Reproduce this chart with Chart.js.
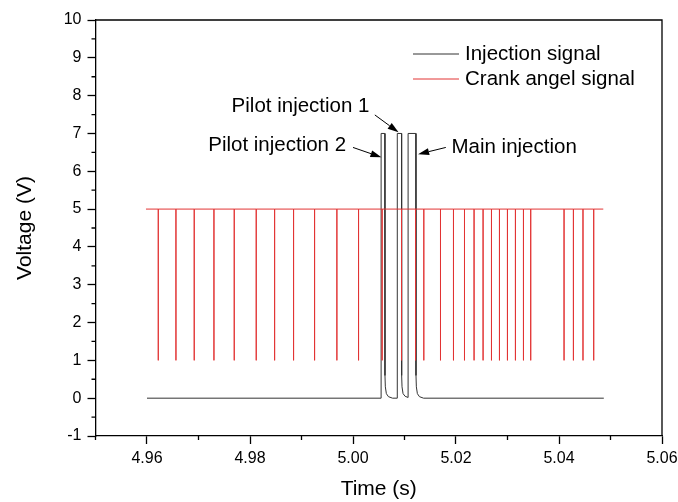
<!DOCTYPE html>
<html>
<head>
<meta charset="utf-8">
<script src="https://cdn.jsdelivr.net/npm/chart.js@4.4.1/dist/chart.umd.min.js"></script>
<style>
    html, body { margin: 0; padding: 0; background: #fff; }
    #wrap { width: 678px; height: 502px; }
</style>
</head>
<body>
<div id="wrap"><canvas id="chart" width="678" height="502"></canvas></div>
<script>
// Crank angle signal: time (s) of every tooth pulse, levels in V
const crankTimes = [
    4.96219, 4.96562, 4.96917, 4.97300, 4.97694, 4.98121, 4.98478, 4.98846,
    4.99254, 4.99687, 5.00108, 5.00566, 5.00942, 5.01214, 5.01375, 5.01699,
    5.01951, 5.02165, 5.02351, 5.02526, 5.02689, 5.02844, 5.02999, 5.03154,
    5.03310, 5.03451, 5.04098, 5.04280, 5.04466, 5.04674
];
const crankStart = 4.9598;
const crankEnd = 5.0486;
const crankHigh = 5;
const crankLow = 1;

// Injection signal: time (s) and voltage (V)
const injTime = [
    4.9600, 5.00544, 5.00546, 5.00618, 5.00621, 5.00628, 5.00648, 5.00688, 5.00768,
    5.00858, 5.00860, 5.00942, 5.00945, 5.00952, 5.00972, 5.01012, 5.01068,
    5.01070, 5.01220, 5.01223, 5.01230, 5.01250, 5.01290, 5.01370, 5.0487
];
const injVolt = [
    0, 0, 7, 7, 0.6, 0.3, 0.12, 0.04, 0,
    0, 7, 7, 0.6, 0.3, 0.12, 0.05, 0.02,
    7, 7, 0.6, 0.3, 0.12, 0.04, 0, 0
];

// Axis ranges
const xRange = [4.95, 5.06];
const yRange = [-1, 10];

// Annotations (text anchor and arrow in data units)
const notes = [
    { text: 'Pilot injection 1', x: 4.97643, y: 7.58, from: [5.00424, 7.49], to: [5.00884, 7.03] },
    { text: 'Pilot injection 2', x: 4.97189, y: 6.54, from: [5.00000, 6.63], to: [5.00552, 6.37] },
    { text: 'Main injection',    x: 5.01912, y: 6.48, from: [5.01802, 6.63], to: [5.01264, 6.45] }
];

const FONT = "'Liberation Sans', Arial, sans-serif";

function crankPoints() {
    const pts = [{ x: crankStart, y: crankHigh }];
    crankTimes.forEach(t => {
        pts.push({ x: t, y: crankHigh }, { x: t, y: crankLow }, { x: t, y: crankHigh });
    });
    pts.push({ x: crankEnd, y: crankHigh });
    return pts;
}

function injPoints() {
    return injTime.map((t, i) => ({ x: t, y: injVolt[i] }));
}

function isMajorX(v) {
    const k = Math.round(v * 100);
    return Math.abs(v * 100 - k) < 1e-6 && k % 2 === 0;
}
function isMajorY(v) {
    return Math.abs(v - Math.round(v)) < 1e-6;
}

// minor ticks + top/right frame
const frameAndMinor = {
    id: 'frameAndMinor',
    afterDraw(chart) {
        const { ctx, chartArea: a, scales: { x, y } } = chart;
        ctx.save();
        ctx.strokeStyle = '#000';
        ctx.lineWidth = 1.3;
        ctx.beginPath();
        x.ticks.forEach(t => {
            if (!isMajorX(t.value)) {
                const px = x.getPixelForValue(t.value);
                ctx.moveTo(px, a.bottom);
                ctx.lineTo(px, a.bottom + 4);
            }
        });
        y.ticks.forEach(t => {
            if (!isMajorY(t.value)) {
                const py = y.getPixelForValue(t.value);
                ctx.moveTo(a.left - 4, py);
                ctx.lineTo(a.left, py);
            }
        });
        ctx.moveTo(a.left, a.top);
        ctx.lineTo(a.right, a.top);
        ctx.lineTo(a.right, a.bottom);
        ctx.stroke();
        ctx.restore();
    }
};

// legend drawn inside the plot, top right
const insideLegend = {
    id: 'insideLegend',
    afterDraw(chart) {
        const { ctx, chartArea: a } = chart;
        ctx.save();
        ctx.font = '20.5px ' + FONT;
        ctx.textBaseline = 'middle';
        ctx.fillStyle = '#000';
        chart.data.datasets.forEach((ds, i) => {
            const yy = a.top + 34 + i * 25;
            const x0 = a.right - 249;
            ctx.strokeStyle = ds.borderColor;
            ctx.lineWidth = 1;
            ctx.beginPath();
            ctx.moveTo(x0, yy);
            ctx.lineTo(x0 + 46, yy);
            ctx.stroke();
            ctx.fillText(ds.label, x0 + 52, yy);
        });
        ctx.restore();
    }
};

// text labels with arrows
const arrowNotes = {
    id: 'arrowNotes',
    afterDraw(chart) {
        const { ctx, scales: { x, y } } = chart;
        ctx.save();
        ctx.font = '20.5px ' + FONT;
        ctx.textBaseline = 'alphabetic';
        ctx.fillStyle = '#000';
        ctx.strokeStyle = '#000';
        ctx.lineWidth = 1;
        notes.forEach(n => {
            ctx.fillText(n.text, x.getPixelForValue(n.x), y.getPixelForValue(n.y));
            const x1 = x.getPixelForValue(n.from[0]), y1 = y.getPixelForValue(n.from[1]);
            const x2 = x.getPixelForValue(n.to[0]), y2 = y.getPixelForValue(n.to[1]);
            const ang = Math.atan2(y2 - y1, x2 - x1);
            const len = 11, hw = 3.5;
            const bx = x2 - len * Math.cos(ang), by = y2 - len * Math.sin(ang);
            ctx.beginPath();
            ctx.moveTo(x1, y1);
            ctx.lineTo(bx, by);
            ctx.stroke();
            ctx.beginPath();
            ctx.moveTo(x2, y2);
            ctx.lineTo(bx + hw * Math.sin(ang), by - hw * Math.cos(ang));
            ctx.lineTo(bx - hw * Math.sin(ang), by + hw * Math.cos(ang));
            ctx.closePath();
            ctx.fill();
        });
        ctx.restore();
    }
};

new Chart(document.getElementById('chart'), {
    type: 'scatter',
    data: {
        datasets: [
            {
                label: 'Injection signal',
                data: injPoints(),
                showLine: true,
                borderColor: '#333333',
                borderWidth: 1,
                pointRadius: 0,
                tension: 0,
                order: 1
            },
            {
                label: 'Crank angel signal',
                data: crankPoints(),
                showLine: true,
                borderColor: 'rgb(226, 52, 52)',
                borderWidth: 1,
                pointRadius: 0,
                tension: 0,
                order: 0
            }
        ]
    },
    options: {
        responsive: false,
        animation: false,
        layout: { padding: { top: 20, right: 16, left: 0, bottom: 0 } },
        plugins: {
            legend: { display: false },
            tooltip: { enabled: false }
        },
        scales: {
            x: {
                type: 'linear',
                min: xRange[0],
                max: xRange[1],
                ticks: {
                    stepSize: 0.01,
                    autoSkip: false,
                    maxRotation: 0,
                    padding: 5,
                    color: '#000',
                    font: { family: FONT, size: 16 },
                    callback: v => isMajorX(v) ? v.toFixed(2) : ''
                },
                grid: {
                    drawOnChartArea: false,
                    tickLength: 8,
                    tickWidth: 1.3,
                    tickColor: c => (c.tick && isMajorX(c.tick.value)) ? '#000' : 'rgba(0,0,0,0)'
                },
                border: { color: '#000', width: 1.3 },
                title: {
                    display: true,
                    text: 'Time (s)',
                    color: '#000',
                    font: { family: FONT, size: 21 },
                    padding: { top: 0, bottom: 0 }
                },
                afterFit: s => {
                    s.height = 66;
                    s.paddingLeft = 0;
                    s.paddingRight = 0;
                }
            },
            y: {
                type: 'linear',
                min: yRange[0],
                max: yRange[1],
                ticks: {
                    stepSize: 0.5,
                    autoSkip: false,
                    padding: 6,
                    color: '#000',
                    font: { family: FONT, size: 16 },
                    callback: v => isMajorY(v) ? String(Math.round(v)) : ''
                },
                grid: {
                    drawOnChartArea: false,
                    tickLength: 8,
                    tickWidth: 1.3,
                    tickColor: c => (c.tick && isMajorY(c.tick.value)) ? '#000' : 'rgba(0,0,0,0)'
                },
                border: { color: '#000', width: 1.3 },
                title: {
                    display: true,
                    text: 'Voltage (V)',
                    color: '#000',
                    font: { family: FONT, size: 21 },
                    padding: { top: 13, bottom: 0 }
                },
                afterFit: s => {
                    s.width = 95.5;
                    s.paddingTop = 0;
                    s.paddingBottom = 0;
                }
            }
        }
    },
    plugins: [frameAndMinor, insideLegend, arrowNotes]
});
</script>
</body>
</html>
